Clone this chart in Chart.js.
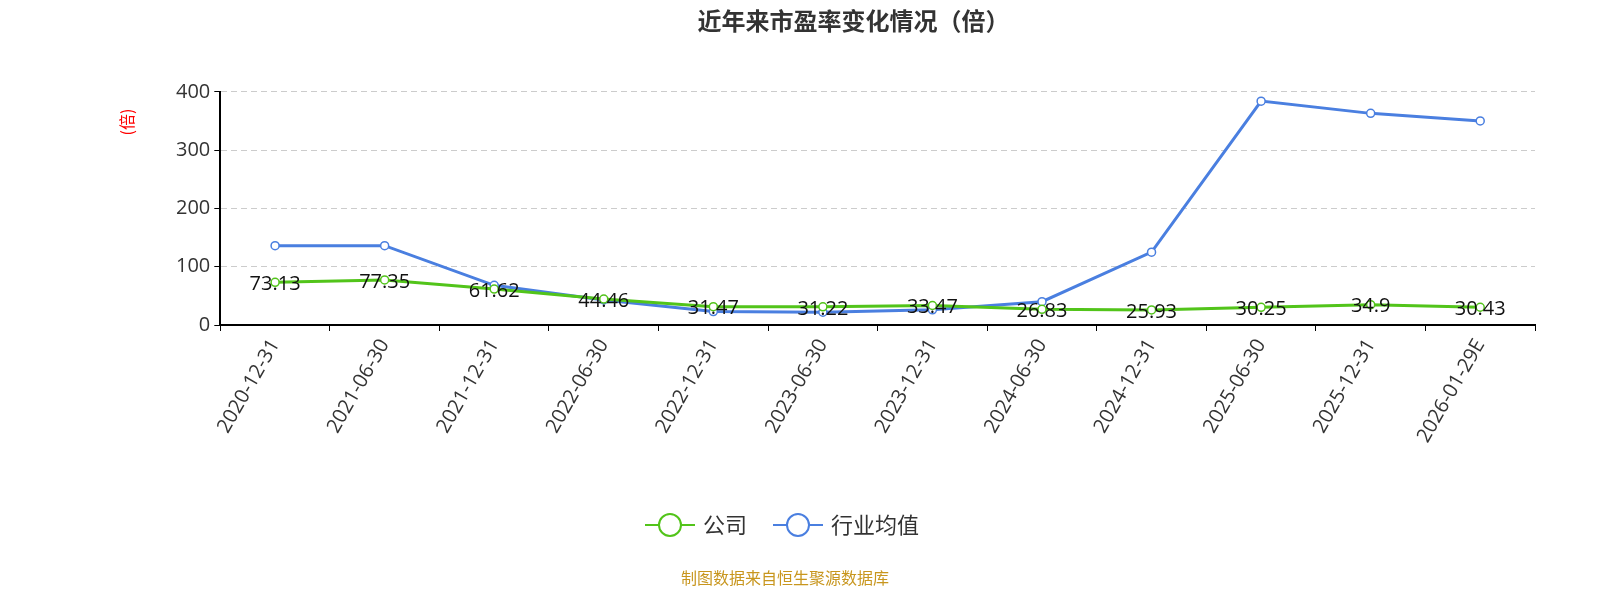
<!DOCTYPE html>
<html><head><meta charset="utf-8">
<script src="https://cdn.jsdelivr.net/npm/chart.js@4/dist/chart.umd.min.js"></script>
<style>html,body{margin:0;padding:0;background:#fff}#w{width:1600px;height:600px}</style>
</head><body><div id="w"><canvas id="c"></canvas></div>
<script>
const categories=["2020-12-31","2021-06-30","2021-12-31","2022-06-30","2022-12-31","2023-06-30","2023-12-31","2024-06-30","2024-12-31","2025-06-30","2025-12-31","2026-01-29E"];
const companyPE=[73.13,77.35,61.62,44.46,31.47,31.22,33.47,26.83,25.93,30.25,34.9,30.43];
const industryPE=[136,136,68,43,23,22,26,40,125,384,363,350];
const yTicks=[0,100,200,300,400];
const seriesNames=["公司","行业均值"];
const colors=["#52c41a","#4a7fe0"];
const FONT='"Noto Sans CJK SC","Noto Sans",sans-serif';
const LFONT='"Open Sans","Noto Sans",sans-serif';

const labelPlugin={id:'lbl',afterDatasetsDraw(ch){
  const ctx=ch.ctx,meta=ch.getDatasetMeta(0);
  ctx.save();ctx.font='20px '+LFONT;ctx.fillStyle='#111';ctx.textAlign='center';ctx.textBaseline='middle';
  meta.data.forEach((p,i)=>ctx.fillText(String(companyPE[i]),p.x,p.y+2));
  ctx.restore();
}};
const extraPlugin={id:'extra',afterDraw(ch){
  const ctx=ch.ctx;ctx.save();
  const y=525;let x=645;
  seriesNames.forEach((n,i)=>{
    ctx.strokeStyle=colors[i];ctx.lineWidth=2;
    ctx.beginPath();ctx.moveTo(x,y);ctx.lineTo(x+50,y);ctx.stroke();
    ctx.beginPath();ctx.arc(x+25,y,11,0,Math.PI*2);ctx.fillStyle='#fff';ctx.fill();ctx.stroke();
    ctx.fillStyle='#333';ctx.font='22px '+FONT;ctx.textAlign='left';ctx.textBaseline='middle';
    ctx.fillText(n,x+58,y);
    x+=58+ctx.measureText(n).width+26;
  });
  ctx.fillStyle='#c8961e';ctx.font='16px '+FONT;ctx.textAlign='center';
  ctx.fillText('制图数据来自恒生聚源数据库',785,578);
  ctx.translate(127,122);ctx.rotate(-Math.PI/2);ctx.fillStyle='#ff0000';ctx.font='16px '+FONT;ctx.textAlign='center';
  ctx.fillText('(倍)',0,0);
  ctx.restore();
}};
new Chart(document.getElementById('c'),{
  type:'line',
  data:{labels:categories,datasets:[
    {label:seriesNames[0],data:companyPE,borderColor:colors[0],backgroundColor:'#fff',borderWidth:3,pointRadius:4,pointBorderWidth:1.5,tension:0},
    {label:seriesNames[1],data:industryPE,borderColor:colors[1],backgroundColor:'#fff',borderWidth:3,pointRadius:4,pointBorderWidth:1.5,tension:0}
  ]},
  options:{responsive:true,maintainAspectRatio:false,animation:false,
    layout:{padding:{left:172,right:65,top:0,bottom:149}},
    plugins:{legend:{display:false},tooltip:{enabled:false},
      title:{display:true,text:'近年来市盈率变化情况（倍）',color:'#333',font:{family:FONT,size:24,weight:'bold'},padding:{top:6,bottom:57}}},
    scales:{
      x:{offset:true,grid:{display:true,drawOnChartArea:false,offset:true,color:'#000',tickLength:6},border:{color:'#000',width:2},
        ticks:{color:'#333',font:{family:LFONT,size:20},maxRotation:60,minRotation:60,padding:4}},
      y:{min:0,max:400,afterBuildTicks(ax){ax.ticks=yTicks.map(v=>({value:v}));},
        grid:{color:'#ccc',tickColor:'#000',tickLength:6},border:{color:'#000',width:2,dash:[6,4]},
        ticks:{color:'#333',font:{family:LFONT,size:20},padding:4}}
    }},
  plugins:[labelPlugin,extraPlugin]
});
</script></body></html>
